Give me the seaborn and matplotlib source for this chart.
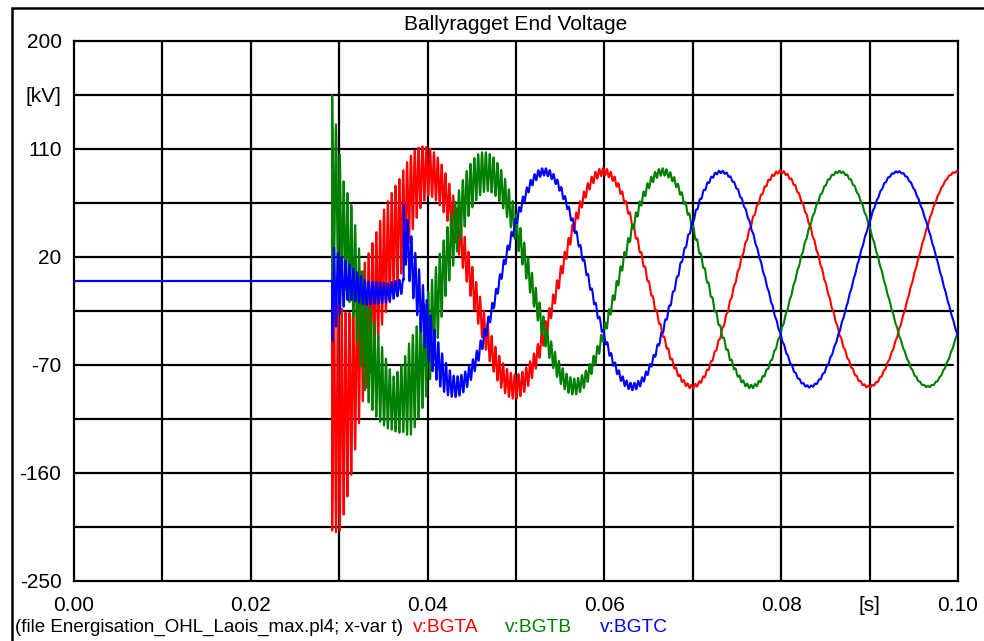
import numpy as np
import pandas as pd
import matplotlib
matplotlib.use("Agg")
import matplotlib.pyplot as plt
import seaborn as sns
from matplotlib.patches import Rectangle

# ---- Ballyragget end phase voltages after line energisation (kV) ----
SIGNALS = ["v:BGTA", "v:BGTB", "v:BGTC"]
COLORS = ["#ff0000", "#008000", "#0000ff"]

F_SYS = 50.0        # power frequency, Hz
F_RING = 2300.0     # line ringing frequency, Hz
AMP = 89.5          # steady crest, kV
DC = 1.5            # small standing offset, kV

peak_times = [0.0599, 0.0666, 0.0732]   # a positive crest of each phase, s
close_times = [0.0292, 0.0292, 0.0373]  # breaker pole closing, s
ring_sign = [-1, 1, 1]

# phase A: (time, deviation from steady wave, ringing half-amplitude)
a_t = [0.0292, 0.0300, 0.0311, 0.0325, 0.0350, 0.0369, 0.0400, 0.0450, 0.0500, 0.0550, 0.0600, 0.0700, 0.1000]
a_off = [-27, -27, -19, 12, 9, -10, 0, 0, 0, 0, 0, 0, 0]
a_rng = [95, 95, 73, 57, 45, 42, 20, 15, 10, 6, 3, 1.5, 0.5]

# phase B
b_t = [0.0292, 0.0304, 0.0315, 0.0330, 0.0350, 0.0361, 0.0373, 0.0380, 0.0400, 0.0420, 0.0467, 0.0561, 0.0600, 0.0665, 0.0800, 0.1000]
b_off = [24, 8, 13, -14, -12, -15, -10, -10, -10, 0, 0, 0, 0, 0, 0, 0]
b_rng = [68, 43, 43, 45, 31, 22, 30, 40, 41, 26, 16, 7, 5, 3, 1, 0.5]

# phase C while its pole is still open (induced voltage, absolute kV)
c_pre_t = [0.0292, 0.0300, 0.0310, 0.0330, 0.0355, 0.0372]
c_pre_mean = [-10, -3, 0, -10, -10, -4]
c_pre_rng = [40, 25, 15, 10, 8, 6]

# phase C after closing
c_t = [0.0373, 0.0376, 0.0400, 0.0429, 0.0470, 0.0535, 0.0635, 0.0735, 0.1000]
c_off = [15, 15, 5, 0, 0, 0, 0, 0, 0]
c_rng = [22, 22, 23, 9, 5, 3, 3, 1, 0.5]

y_ticks = [200, 155, 110, 65, 20, -25, -70, -115, -160, -205, -250]
y_labels = ["200", "[kV]", "110", "", "20", "", "-70", "", "-160", "", "-250"]
x_ticks = [0.00, 0.01, 0.02, 0.03, 0.04, 0.05, 0.06, 0.07, 0.08, 0.09, 0.10]
x_labels = ["0.00", "", "0.02", "", "0.04", "", "0.06", "", "0.08", "[s]", "0.10"]

t = np.linspace(0.0, 0.1, 10001)


def energised(t, peak, tc, rt, off, rng, sign):
    steady = DC + AMP * np.cos(2 * np.pi * F_SYS * (t - peak))
    ring = sign * np.interp(t, rt, rng) * np.cos(2 * np.pi * F_RING * (t - tc))
    v = steady + np.interp(t, rt, off) + ring
    v[t < tc] = 0.0
    return v


va = energised(t, peak_times[0], close_times[0], a_t, a_off, a_rng, ring_sign[0])
vb = energised(t, peak_times[1], close_times[1], b_t, b_off, b_rng, ring_sign[1])
vc = energised(t, peak_times[2], close_times[2], c_t, c_off, c_rng, ring_sign[2])
pre = (t >= close_times[0]) & (t < close_times[2])
vc[pre] = (np.interp(t[pre], c_pre_t, c_pre_mean)
           - np.interp(t[pre], c_pre_t, c_pre_rng)
           * np.cos(2 * np.pi * F_RING * (t[pre] - close_times[0])))

df = pd.concat([
    pd.DataFrame({"t": t, "kV": v, "signal": name})
    for name, v in zip(SIGNALS, [va, vb, vc])
], ignore_index=True)

sns.set_theme(style="white")
plt.rcParams["font.family"] = ["Liberation Sans", "DejaVu Sans"]
plt.rcParams["axes.unicode_minus"] = False

fig = plt.figure(figsize=(9.84, 6.41), dpi=100)
W, H = 984, 641
L, R, T, B = 74, 958, 41, 581
ax = fig.add_axes([L / W, (H - B) / H, (R - L) / W, (B - T) / H])

GRID_LW = 1.6
for y in y_ticks[1:-1]:
    ax.axhline(y, xmin=0, xmax=0.994, color="black", lw=GRID_LW, zorder=1)
for x in x_ticks[1:-1]:
    ax.axvline(x, color="black", lw=GRID_LW, zorder=1)

sns.lineplot(data=df, x="t", y="kV", hue="signal", hue_order=SIGNALS,
             palette=COLORS, estimator=None, sort=False, legend=False,
             linewidth=1.5, ax=ax, zorder=3)

ax.set_xlim(0.0, 0.1)
ax.set_ylim(-250, 200)
ax.set_xticks(x_ticks)
ax.set_xticklabels(x_labels)
ax.set_yticks(y_ticks)
ax.set_yticklabels(y_labels)
ax.set_xlabel("")
ax.set_ylabel("")
ax.tick_params(axis="both", direction="out", length=8, width=GRID_LW,
               color="black", labelsize=15, labelcolor="black")
ax.tick_params(axis="x", pad=3)
ax.tick_params(axis="y", pad=1)
for s in ax.spines.values():
    s.set_color("black")
    s.set_linewidth(GRID_LW)
    s.set_visible(True)

ax.set_title("Ballyragget End Voltage", fontsize=15, color="black", pad=8)

# outer frame
fig.add_artist(Rectangle((12 / W, -0.2), 1.2, 1.2 - 8 / H, transform=fig.transFigure,
                         fill=False, edgecolor="black", linewidth=1.8))

fy = 1 - 627 / H
fig.text(15 / W, fy, "(file Energisation_OHL_Laois_max.pl4; x-var t)",
         fontsize=13.5, color="black", va="center", ha="left")
for label, col, x0 in zip(SIGNALS, COLORS, [413, 505, 600]):
    fig.text(x0 / W, fy, label, fontsize=13.8, color=col, va="center", ha="left")

fig.savefig("out.png", dpi=100, facecolor="white")
